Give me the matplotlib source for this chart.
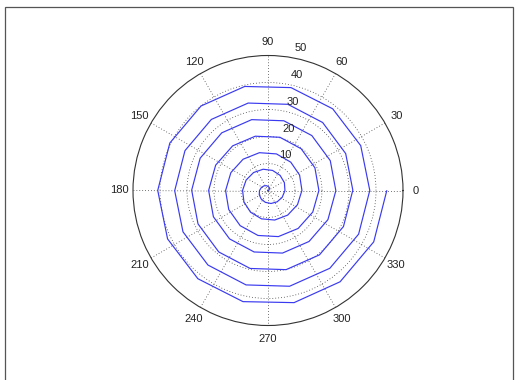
"""Polar plot of an Archimedean spiral, MATLAB polar() look."""
import matplotlib
matplotlib.use("Agg")
import matplotlib.pyplot as plt
import numpy as np
from matplotlib.patches import Rectangle

# spiral samples t (rad); plotted as polar(t, t), 14 samples per turn
T_VALUES = [
    0.00, 0.45, 0.90, 1.35, 1.80, 2.24, 2.69, 3.14, 3.59, 4.04, 4.49, 4.94, 5.39, 5.83,
    6.28, 6.73, 7.18, 7.63, 8.08, 8.53, 8.98, 9.42, 9.87, 10.32, 10.77, 11.22, 11.67, 12.12,
    12.57, 13.02, 13.46, 13.91, 14.36, 14.81, 15.26, 15.71, 16.16, 16.61, 17.06, 17.50, 17.95, 18.40,
    18.85, 19.30, 19.75, 20.20, 20.65, 21.09, 21.54, 21.99, 22.44, 22.89, 23.34, 23.79, 24.24, 24.68,
    25.13, 25.58, 26.03, 26.48, 26.93, 27.38, 27.83, 28.27, 28.72, 29.17, 29.62, 30.07, 30.52, 30.97,
    31.42, 31.86, 32.31, 32.76, 33.21, 33.66, 34.11, 34.56, 35.01, 35.45, 35.90, 36.35, 36.80, 37.25,
    37.70, 38.15, 38.60, 39.05, 39.49, 39.94, 40.39, 40.84, 41.29, 41.74, 42.19, 42.64, 43.08, 43.53,
    43.98,
]
R_TICKS = [10, 20, 30, 40, 50]
ANGLE_TICKS = [0, 30, 60, 90, 120, 150, 180, 210, 240, 270, 300, 330]
R_MAX = 50

W, H, DPI = 517, 380, 100
plt.rcParams["font.family"] = ["Liberation Sans", "DejaVu Sans"]

fig = plt.figure(figsize=(W / DPI, H / DPI), dpi=DPI)
fig.patch.set_facecolor("white")
# thin figure frame like the MATLAB window capture
fig.patches.append(Rectangle((5 / W, -0.02), 508 / W, 1.02 - 6.5 / H,
                             transform=fig.transFigure, fill=False,
                             edgecolor="#555555", lw=0.9))

cx, cy, rad = 268, 190.5, 135
ax = fig.add_axes([(cx - rad) / W, (H - cy - rad) / H, 2 * rad / W, 2 * rad / H],
                  projection="polar")
ax.set_ylim(0, R_MAX)
ax.set_rticks(R_TICKS[:-1])
ax.set_yticklabels([])
ax.set_thetagrids(ANGLE_TICKS, [""] * len(ANGLE_TICKS))
ax.grid(True, color="#444444", lw=0.6, ls=(0, (1, 2.5)))
ax.spines["polar"].set_color("#333333")
ax.spines["polar"].set_linewidth(0.8)
ax.tick_params(length=0)

t = np.asarray(T_VALUES)
ax.plot(t, t, color="#3a3af0", lw=0.85, zorder=3)

# angle labels just outside the rim
for a in ANGLE_TICKS:
    ax.text(np.deg2rad(a), R_MAX * 1.097, str(a), ha="center", va="center",
            fontsize=8, color="#222222", clip_on=False)
# ring labels near 82 degrees, nudged up-right as MATLAB does
for r in R_TICKS:
    ax.annotate(str(r), xy=(np.deg2rad(82), r), xytext=(9.7, 6.1),
                textcoords="offset points", ha="center", va="center",
                fontsize=8, color="#222222", annotation_clip=False)

fig.savefig("out.png", dpi=DPI, facecolor="white")
